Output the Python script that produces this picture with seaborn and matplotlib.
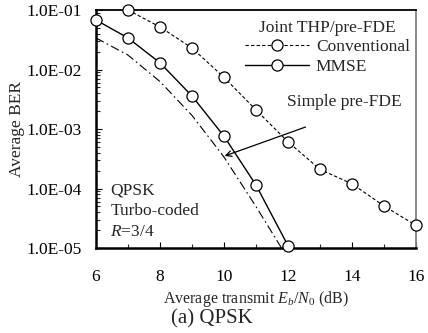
import numpy as np
import pandas as pd
import matplotlib
matplotlib.use("Agg")
import matplotlib.pyplot as plt
import seaborn as sns
from matplotlib.ticker import FixedLocator, LogLocator, NullFormatter, MultipleLocator

# Data
snr_conv = [7, 8, 9, 10, 11, 12, 13, 14, 15, 16]
ber_conv = [1.0e-1, 5.2e-2, 2.3e-2, 7.4e-3, 2.1e-3, 6.1e-4, 2.1e-4, 1.2e-4, 5.1e-5, 2.4e-5]
snr_mmse = [6, 7, 8, 9, 10, 11, 12]
ber_mmse = [6.8e-2, 3.4e-2, 1.3e-2, 3.6e-3, 7.6e-4, 1.15e-4, 1.1e-5]
snr_simple = [6, 7, 8, 9, 10, 11, 11.8]
ber_simple = [3.4e-2, 1.75e-2, 6.3e-3, 1.7e-3, 3.4e-4, 5.0e-5, 1.0e-5]
ytick_vals = [1e-5, 1e-4, 1e-3, 1e-2, 1e-1]
ytick_labels = ["1.0E-05", "1.0E-04", "1.0E-03", "1.0E-02", "1.0E-01"]
xtick_vals = [6, 8, 10, 12, 14, 16]

sns.set_style("ticks")
plt.rcParams['font.family'] = ['Liberation Serif', 'DejaVu Serif']
plt.rcParams['mathtext.fontset'] = 'custom'
plt.rcParams['mathtext.rm'] = 'Liberation Serif'
plt.rcParams['mathtext.it'] = 'Liberation Serif:italic'

fig = plt.figure(figsize=(4.28, 3.33), dpi=100)
ax = fig.add_axes([0.224, 0.255, 0.748, 0.715])

df_c = pd.DataFrame({"x": snr_conv, "y": ber_conv})
df_m = pd.DataFrame({"x": snr_mmse, "y": ber_mmse})
df_s = pd.DataFrame({"x": snr_simple, "y": ber_simple})

sns.lineplot(data=df_s, x="x", y="y", ax=ax, color="black", lw=0.8,
             linestyle=(0, (8, 3, 1.5, 3)), label="_nolegend_", zorder=2)
sns.lineplot(data=df_c, x="x", y="y", ax=ax, color="black", lw=0.8,
             linestyle=(0, (3, 2)), marker="o", markersize=8,
             markerfacecolor="white", markeredgecolor="black", markeredgewidth=0.9,
             label="Conventional", clip_on=False, zorder=3)
sns.lineplot(data=df_m, x="x", y="y", ax=ax, color="black", lw=1.0,
             marker="o", markersize=8,
             markerfacecolor="white", markeredgecolor="black", markeredgewidth=0.9,
             label="MMSE", clip_on=False, zorder=3)

ax.set_yscale("log")
ax.set_xlim(6, 16)
ax.set_ylim(1e-5, 1e-1)
ax.yaxis.set_major_locator(FixedLocator(ytick_vals))
ax.set_yticklabels(ytick_labels)
ax.yaxis.set_minor_locator(LogLocator(base=10, subs=np.arange(2, 10)))
ax.yaxis.set_minor_formatter(NullFormatter())
ax.xaxis.set_major_locator(FixedLocator(xtick_vals))
ax.xaxis.set_minor_locator(MultipleLocator(1))
ax.tick_params(axis="both", which="major", direction="in", length=4, width=0.8,
               labelsize=12.5, colors="black")
ax.tick_params(axis="both", which="minor", direction="in", length=3, width=0.8)
ax.tick_params(axis="x", which="major", pad=15)
ax.tick_params(axis="y", which="major", pad=10)

for s in ["left", "bottom"]:
    ax.spines[s].set_linewidth(1.8)
    ax.spines[s].set_color("black")
ax.spines["top"].set_visible(True)
ax.spines["top"].set_linewidth(1.3)
ax.spines["top"].set_color("black")
ax.spines["right"].set_visible(True)
ax.spines["right"].set_linewidth(1.3)
ax.spines["right"].set_color("#808080")

ax.set_xlabel(r"Average transmit $E_b$/$N_0$ (dB)", fontsize=11.5)
ax.xaxis.set_label_coords(0.5, -0.172)
ax.set_ylabel("Average BER", fontsize=12.5)
ax.yaxis.set_label_coords(-0.222, 0.5)

leg = ax.legend(title="Joint THP/pre-FDE", loc="upper right", frameon=False,
                bbox_to_anchor=(1.0, 0.985),
                fontsize=12.5, title_fontsize=12.5, handlelength=3.7,
                handletextpad=0.4, borderaxespad=0.15, labelspacing=0.2,
                borderpad=0.2)

ax.annotate("Simple pre-FDE", xy=(9.94, 3.4e-4), xytext=(11.97, 2.9e-3),
            fontsize=12.5, va="center", ha="left")
ax.annotate("", xy=(9.94, 3.4e-4), xytext=(12.63, 1.12e-3),
            arrowprops=dict(arrowstyle="->", color="black", lw=0.9))

ax.text(6.45, 4.2e-5, "QPSK\nTurbo-coded\n$R$=3/4", fontsize=12.5, va="center",
        ha="left", linespacing=1.4)

fig.text(212 / 428, 1 - 319 / 333, "(a) QPSK", ha="center", va="center", fontsize=15)

fig.savefig("out.png", dpi=100)
